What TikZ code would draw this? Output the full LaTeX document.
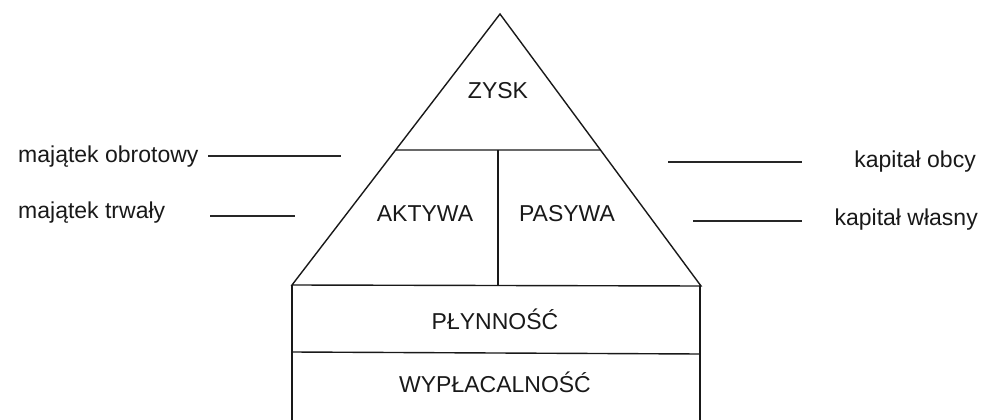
\documentclass[tikz,border=0pt]{standalone}
\usepackage{fontspec}
\setmainfont{Liberation Sans}
\usetikzlibrary{calc}
\begin{document}
\begin{tikzpicture}[x=1pt,y=-1pt,
  frame/.style={draw=black!90, line width=1.4pt, line join=miter},
  tick/.style={draw=black!85, line width=1.3pt},
  lbl/.style={inner sep=0pt, font=\fontsize{23}{27}\selectfont, text=black!90}]
\useasboundingbox (0,0) rectangle (983,420);

% pyramid corners
\coordinate (apex) at (500,14);
\coordinate (bl) at (292,285);
\coordinate (br) at (701,286);
\coordinate (ml) at ($(apex)!{136/271}!(bl)$);
\coordinate (mr) at ($(apex)!{136/272}!(br)$);
\coordinate (vt) at (498,150);
\coordinate (vb) at (498,286);

% triangle with its inner divisions
\draw[frame] (bl) -- (apex) -- (br) -- cycle;
\draw[frame] (ml) -- (mr);
\draw[frame] (vt) -- (vb);

% base block: two stacked bands, open at the lower edge
\coordinate (rl) at (292,285);
\coordinate (rr) at (700,286);
\coordinate (rml) at (292,352);
\coordinate (rmr) at (700,354);
\coordinate (rbl) at (292,422);
\coordinate (rbr) at (700,422);
\draw[frame] (rbl) -- (rl) (rr) -- (rbr);
\draw[frame] (rml) -- (rmr);

% labels inside the pyramid
\node[lbl, anchor=base] (zysk) at (498,99) {ZYSK};
\node[lbl, anchor=base] (akt) at (425,221) {AKTYWA};
\node[lbl, anchor=base] (pas) at (567,221) {PASYWA};
\node[lbl, anchor=base] (plyn) at (495,329) {PŁYNNOŚĆ};
\node[lbl, anchor=base] (wypl) at (495,392) {WYPŁACALNOŚĆ};

% side annotations with their blank rules
\node[lbl, anchor=base west] (mo) at (18,162) {majątek obrotowy};
\node[lbl, anchor=base west] (mt) at (18,218) {majątek trwały};
\node[lbl, anchor=base east] (ko) at (976,167) {kapitał obcy};
\node[lbl, anchor=base east] (kw) at (978,225) {kapitał własny};

\coordinate (a1) at (208,156); \coordinate (a2) at (341,156);
\coordinate (b1) at (210,216); \coordinate (b2) at (295,216);
\coordinate (c1) at (668,162); \coordinate (c2) at (802,162);
\coordinate (d1) at (693,221); \coordinate (d2) at (802,221);
\draw[tick] (a1) -- (a2);
\draw[tick] (b1) -- (b2);
\draw[tick] (c1) -- (c2);
\draw[tick] (d1) -- (d2);
\end{tikzpicture}
\end{document}
